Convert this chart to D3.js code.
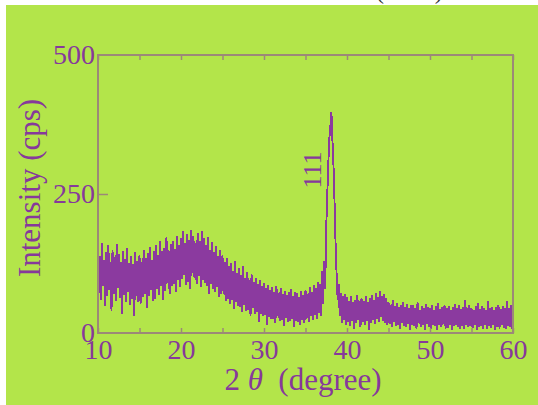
<!DOCTYPE html>
<html>
<head>
<meta charset="utf-8">
<script src="https://cdn.jsdelivr.net/npm/d3@7"></script>
<style>
  body { margin: 0; background: #ffffff; }
  svg { display: block; }
  .lbl { font-family: "Liberation Serif", "Times New Roman", serif; fill: #86399b; }
</style>
</head>
<body>
<svg width="538" height="405"></svg>
<script>
/*
Chart data.
Scan starts at 10 degrees with a 0.125 degree step, one row per degree.
*/
var scanStart = 10,
    scanStep = 0.125;

var intensity = [
  150,72, 138,60, 162,85, 131,48,
  145,66, 158,78, 127,40, 149,70,
  136,58, 160,81, 142,63, 128,35,
  147,69, 133,55, 152,74, 125,50,
  139,61, 124,30, 146,67, 130,56,
  141,52, 128,64, 150,71, 135,45,
  144,66, 155,78, 132,58, 148,62,
  158,80, 140,68, 165,85, 147,59,
  153,76, 172,90, 149,70, 160,84,
  166,88, 151,73, 175,95, 158,82,
  170,97, 184,104, 162,86, 178,92,
  168,80, 186,108, 174,99, 162,88,
  179,102, 165,83, 183,96, 170,90,
  158,85, 172,70, 150,88, 163,79,
  145,74, 156,82, 138,65, 150,71,
  140,70, 128,58, 135,62, 120,52,
  126,60, 112,44, 130,55, 108,49,
  116,47, 104,38, 120,50, 98,40,
  110,42, 96,30, 106,45, 92,35,
  98,38, 88,20, 95,34, 84,30,
  90,32, 80,15, 86,28, 78,25,
  82,26, 74,18, 85,30, 72,22,
  80,24, 70,12, 76,27, 68,20,
  74,22, 79,26, 66,10, 73,21,
  72,20, 65,14, 75,24, 68,18,
  78,26, 70,20, 82,30, 74,23,
  86,32, 80,26, 92,36, 88,30,
  112,52, 130,80, 190,250, 305,350,
  372,398, 345,300, 235,160, 105,60,
  88,30, 72,18, 66,24, 70,15,
  64,20, 58,12, 66,22, 55,8,
  60,18, 68,24, 57,10, 63,20,
  58,14, 66,22, 55,6, 62,18,
  68,24, 60,16, 72,26, 64,20,
  75,28, 66,22, 70,18, 62,15,
  56,16, 50,10, 60,20, 48,12,
  53,14, 46,8, 51,18, 56,12,
  47,10, 52,16, 44,6, 50,14,
  51,12, 45,8, 55,18, 42,10,
  49,14, 44,6, 52,16, 46,10,
  45,8, 51,15, 42,12, 48,6,
  53,14, 43,10, 47,16, 50,8,
  44,9, 49,14, 41,5, 47,12,
  52,15, 45,10, 50,8, 43,13,
  47,7, 60,15, 44,10, 50,12,
  45,9, 42,14, 48,6, 53,11,
  43,12, 49,8, 45,15, 41,7,
  58,13, 44,9, 47,14, 42,6,
  46,11, 51,8, 43,14, 48,9,
  44,7, 57,12, 45,10, 50,8,
  47
];

var xTicks = [10, 20, 30, 40, 50, 60],
    xMinorTicks = [10, 15, 20, 25, 30, 35, 40, 45, 50, 55, 60],
    yTicks = [0, 250, 500],
    peakLabel = "111",
    peakLabelAt = [36.9, 293];

var points = intensity.map(function(v, i) { return {angle: scanStart + i * scanStep, cps: v}; });

/*
SVG/Group/Margin Declarations
*/
var svg = d3.select("svg"),
    margin = {top: 55, right: 25, bottom: 72, left: 98},
    width = svg.attr("width") - margin.left - margin.right,
    height = svg.attr("height") - margin.top - margin.bottom;

// green page, white strips on top and left
svg.append("rect")
    .attr("x", 6).attr("y", 5)
    .attr("width", 538).attr("height", 405)
    .attr("fill", "#b3e54a");

// cut off caption from the page above (only the bottoms of the brackets show)
svg.append("text")
    .attr("x", 376).attr("y", -1.5)
    .style("font", "24px 'Liberation Serif', serif")
    .attr("fill", "#333")
    .text("(XRD).");

var g = svg.append("g").attr("transform", "translate(" + margin.left + "," + margin.top + ")");

var xScale = d3.scaleLinear().domain([10, 60]).range([0, width]),
    yScale = d3.scaleLinear().domain([0, 500]).range([height, 0]);

var line = d3.line()
    .x(function(d) { return xScale(d.angle); })
    .y(function(d) { return yScale(d.cps); });

/*
Scan trace
*/
g.append("path")
    .datum(points)
    .attr("d", line)
    .attr("fill", "none")
    .attr("stroke", "#8b3a9f")
    .attr("stroke-width", 1.9)
    .attr("shape-rendering", "crispEdges");

/*
Frame and inward ticks
*/
var frameColor = "#9c8878";

g.append("g")
    .attr("class", "tick-top")
    .call(d3.axisTop(xScale).tickValues(xMinorTicks).tickSize(-5).tickFormat(""));
g.append("g")
    .attr("class", "tick-bottom")
    .attr("transform", "translate(0," + height + ")")
    .call(d3.axisBottom(xScale).tickValues(xMinorTicks).tickSize(-5).tickFormat(""));
g.append("g")
    .attr("class", "tick-left")
    .call(d3.axisLeft(yScale).tickValues([250]).tickSize(-10).tickFormat(""));

g.selectAll(".tick-top, .tick-bottom, .tick-left").selectAll(".domain").remove();
g.selectAll(".tick line").attr("stroke", frameColor).attr("stroke-width", 1.5);

g.append("rect")
    .attr("width", width).attr("height", height)
    .attr("fill", "none")
    .attr("stroke", frameColor)
    .attr("stroke-width", 2);

/*
Tick labels
*/
var xAxis = g.append("g")
    .attr("transform", "translate(0," + height + ")")
    .call(d3.axisBottom(xScale).tickValues(xTicks).tickSize(0).tickPadding(6));
var yAxis = g.append("g")
    .call(d3.axisLeft(yScale).tickValues(yTicks).tickSize(0).tickPadding(3));

[xAxis, yAxis].forEach(function(a) {
    a.select(".domain").remove();
    a.selectAll("text")
        .attr("class", "lbl")
        .attr("fill", null)
        .style("font-size", "28px");
});
yAxis.selectAll("text").attr("dy", "0.29em");

/*
Axis titles
*/
var xTitle = svg.append("text")
    .attr("class", "lbl")
    .attr("x", 303).attr("y", 390)
    .attr("text-anchor", "middle")
    .style("font-size", "31px");
xTitle.append("tspan").text("2 ");
xTitle.append("tspan").style("font-style", "italic").text("\u03b8");
xTitle.append("tspan").attr("xml:space", "preserve").text("\u00a0 (degree)");

svg.append("text")
    .attr("class", "lbl")
    .attr("transform", "translate(40,188)rotate(-90)")
    .attr("text-anchor", "middle")
    .style("font-size", "31px")
    .text("Intensity (cps)");

/*
Peak annotation
*/
g.append("text")
    .attr("class", "lbl")
    .attr("transform", "translate(" + xScale(peakLabelAt[0]) + "," + yScale(peakLabelAt[1]) + ")rotate(-90)")
    .attr("text-anchor", "middle")
    .style("font-size", "26px")
    .text(peakLabel);
</script>
</body>
</html>
